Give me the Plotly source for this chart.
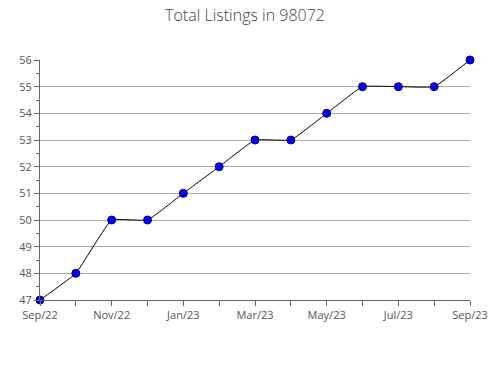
import plotly.graph_objects as go

months = ["Sep/22", "Oct/22", "Nov/22", "Dec/22", "Jan/23", "Feb/23", "Mar/23",
          "Apr/23", "May/23", "Jun/23", "Jul/23", "Aug/23", "Sep/23"]
listings = [47, 48, 50, 50, 51, 52, 53, 53, 54, 55, 55, 55, 56]
tick_labels = ["Sep/22", "Nov/22", "Jan/23", "Mar/23", "May/23", "Jul/23", "Sep/23"]
y_ticks = [47, 48, 49, 50, 51, 52, 53, 54, 55, 56]

x = list(range(len(months)))
tick_pos = [months.index(t) for t in tick_labels]

fig = go.Figure()
fig.add_trace(go.Scatter(
    x=x, y=listings, mode="lines+markers",
    line=dict(color="black", width=1, shape="spline", smoothing=0.3),
    marker=dict(color="#0000ff", size=8, line=dict(color="#000066", width=1)),
    cliponaxis=False, hoverinfo="skip"))

fig.update_layout(
    width=490, height=380,
    margin=dict(l=40, r=20, t=60, b=80, autoexpand=False),
    paper_bgcolor="white", plot_bgcolor="white",
    showlegend=False,
    font=dict(family="Open Sans", color="#555555", size=11),
    title=dict(text="Total Listings in 98072", x=0.5, xanchor="center",
               y=0.975, yanchor="top",
               font=dict(family="Open Sans", size=16, color="#444444", weight=300)),
)
fig.update_xaxes(
    range=[0, 12], tickvals=tick_pos, ticktext=tick_labels,
    showgrid=False, zeroline=False, automargin=False,
    showline=True, linecolor="#666666", linewidth=1,
    ticks="outside", ticklen=5, tickcolor="#666666",
    minor=dict(dtick=1, tick0=0, ticks="outside", ticklen=5, tickcolor="#666666", showgrid=False),
    tickfont=dict(size=11, color="#555555"),
)
fig.update_yaxes(
    range=[47, 56], tickvals=y_ticks,
    showgrid=True, gridcolor="#aaaaaa", gridwidth=1, zeroline=False, automargin=False,
    showline=True, linecolor="#666666", linewidth=1,
    ticks="outside", ticklen=5, tickcolor="#666666",
    minor=dict(dtick=0.5, tick0=47, ticks="outside", ticklen=3, tickcolor="#666666", showgrid=False),
    tickfont=dict(size=11, color="#555555"),
)

fig.write_html("out.html")
